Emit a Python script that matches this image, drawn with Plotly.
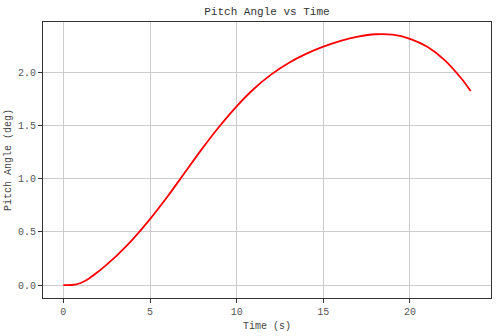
import plotly.graph_objects as go

time_s = [0, 0.5, 1, 1.5, 2, 2.5, 3, 3.5, 4, 5, 6, 7, 8, 9, 10, 11, 12, 13, 14, 15, 16, 17, 18, 19, 20, 21, 22, 23, 23.5]
pitch_deg = [0.0, 0.001, 0.02, 0.065, 0.125, 0.193, 0.265, 0.345, 0.43, 0.62, 0.83, 1.055, 1.28, 1.49, 1.68,
             1.845, 1.98, 2.087, 2.172, 2.24, 2.295, 2.335, 2.357, 2.353, 2.314, 2.239, 2.114, 1.934, 1.824]
x_ticks = [0, 5, 10, 15, 20]
y_ticks = [0.0, 0.5, 1.0, 1.5, 2.0]
y_tick_labels = ["0.0", "0.5", "1.0", "1.5", "2.0"]

FONT = "Liberation Mono"

fig = go.Figure()
fig.add_trace(go.Scatter(x=time_s, y=pitch_deg, mode="lines",
                         line=dict(color="red", width=1.8, shape="spline", smoothing=0.7),
                         showlegend=False))

axis_common = dict(showline=True, mirror=True, linecolor="#333333", linewidth=1,
                   ticks="outside", ticklen=4, tickcolor="#333333",
                   showgrid=True, gridcolor="#cccccc", gridwidth=1, zeroline=False,
                   tickfont=dict(family=FONT, size=10, color="#555555"))

fig.update_layout(
    width=499, height=336,
    margin=dict(l=42, r=7, t=22, b=35),
    paper_bgcolor="white", plot_bgcolor="white",
    title=dict(text="Pitch Angle vs Time", x=0.535, xanchor="center", y=0.967, yanchor="middle",
               font=dict(family=FONT, size=11, color="#333333")),
    xaxis=dict(range=[-1.175, 24.675], tickvals=x_ticks,
               title=dict(text="Time (s)", standoff=4, font=dict(family=FONT, size=10, color="#444444")),
               **axis_common),
    yaxis=dict(range=[-0.121, 2.472], tickvals=y_ticks, ticktext=y_tick_labels,
               title=dict(text="Pitch Angle (deg)", standoff=4, font=dict(family=FONT, size=10, color="#444444")),
               **axis_common),
)

fig.write_html("out.html")
